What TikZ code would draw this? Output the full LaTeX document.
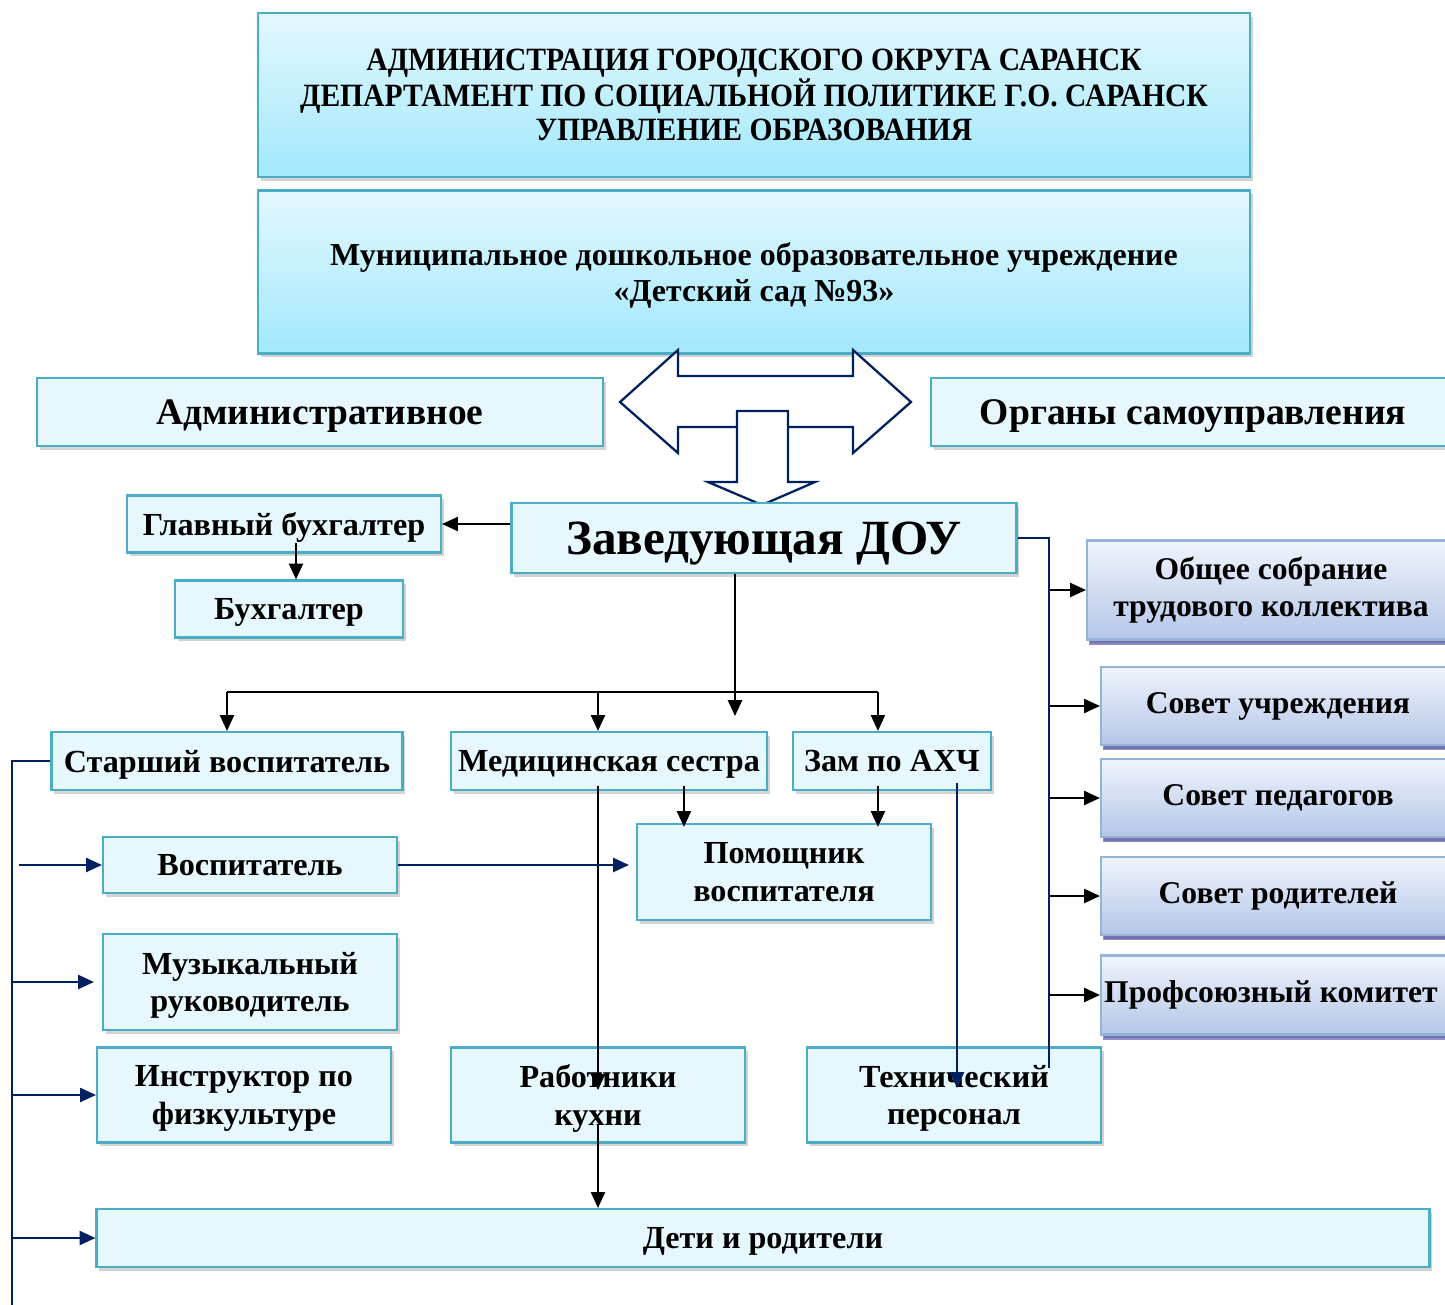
\documentclass[tikz,border=0pt]{standalone}
\usepackage{fontspec}
\setmainfont{Liberation Serif}
\newfontfamily\narrowfont[FakeStretch=0.91]{Liberation Serif}
\usepackage{xcolor}
\usetikzlibrary{arrows.meta,calc,shadows}
\definecolor{boxline}{HTML}{4BACC6}
\definecolor{boxfill}{HTML}{E6F8FD}
\definecolor{topfill}{HTML}{E3F8FE}
\definecolor{botfill}{HTML}{A2E8FC}
\definecolor{lavtop}{HTML}{F0F4FC}
\definecolor{lavbot}{HTML}{B4C6E8}
\definecolor{lavline}{HTML}{95B3D7}
\definecolor{navy}{HTML}{002060}

\begin{document}
\begin{tikzpicture}[x=0.02cm,y=-0.02cm,
  sz/.style 2 args={minimum width=#1*0.02cm,minimum height=#2*0.02cm},
  box/.style={draw=boxline,line width=1.2pt,fill=boxfill,align=center,inner sep=0pt,
    font=\bfseries\fontsize{18.3}{21.5}\selectfont,text depth=0pt,
    drop shadow={shadow xshift=1.5pt,shadow yshift=-2pt,opacity=.35}},
  bigbox/.style={box,top color=topfill,bottom color=botfill},
  rbox/.style={box,draw=lavline,top color=lavtop,bottom color=lavbot,text depth=,
    font=\bfseries\fontsize{18}{21.5}\selectfont,
    drop shadow={shadow xshift=1pt,shadow yshift=-3pt,fill=black!50!blue,opacity=.45}},
  arr/.style={line width=1.1pt,-{Triangle[length=9pt,width=8pt]}},
  narr/.style={arr,navy},
  nv/.style={line width=1.1pt,navy},
  fat/.style={navy,line width=1.3pt,fill=white}]
\clip (0,0) rectangle (1445,1305);

% top
\node[bigbox,sz={992}{164},font=\narrowfont\bfseries\fontsize{18.5}{19.3}\selectfont] (admin) at (754,95)
  {АДМИНИСТРАЦИЯ ГОРОДСКОГО ОКРУГА САРАНСК\\ДЕПАРТАМЕНТ ПО СОЦИАЛЬНОЙ ПОЛИТИКЕ Г.О. САРАНСК\\УПРАВЛЕНИЕ ОБРАЗОВАНИЯ};
\node[bigbox,sz={992}{163},font=\bfseries\fontsize{18.2}{21}\selectfont] (mdou) at (754,272)
  {Муниципальное дошкольное образовательное учреждение\\«Детский сад №93»};
\node[box,sz={566}{68},font=\bfseries\fontsize{21.3}{24}\selectfont] (adm) at (320,412) {Административное};
\node[box,sz={524}{68},font=\bfseries\fontsize{21.4}{24}\selectfont] (self) at (1193,412) {Органы самоуправления};

% big arrows
\draw[fat] (620,402) -- (678,350) -- (678,376) -- (853,376) -- (853,350) -- (911,402)
  -- (853,453) -- (853,427) -- (678,427) -- (678,453) -- cycle;
\draw[fat] (737,411) -- (788,411) -- (788,482) -- (815,482) -- (762,505) -- (708,482) -- (737,482) -- cycle;

\node[box,sz={505}{70},font=\bfseries\fontsize{28}{34}\selectfont] (zav) at (764,538) {Заведующая ДОУ};
\node[box,sz={314}{57}] (glav) at (284,524) {Главный бухгалтер};
\node[box,sz={228}{57}] (buh) at (289,609) {Бухгалтер};

% right column
\node[rbox,sz={368}{99}] (obsh) at (1271,590) {Общее собрание\\трудового коллектива};
\node[rbox,sz={354}{78}] (sovu) at (1278,706) {Совет учреждения};
\node[rbox,sz={354}{78}] (sovp) at (1278,798) {Совет педагогов};
\node[rbox,sz={354}{78}] (sovr) at (1278,896) {Совет родителей};
\node[rbox,sz={354}{79}] (prof) at (1278,995) {Профсоюзный комитет\hspace*{8pt}};

% staff
\node[box,sz={351}{58}] (star) at (227,761) {Старший воспитатель};
\node[box,sz={316}{58}] (med) at (609,761) {Медицинская сестра};
\node[box,sz={198}{58}] (zam) at (892,761) {Зам по АХЧ};
\node[box,sz={294}{96}] (pom) at (784,872) {Помощник\\воспитателя};
\node[box,sz={294}{56}] (vos) at (250,865) {Воспитатель};
\node[box,sz={294}{96}] (muz) at (250,982) {Музыкальный\\руководитель};
\node[box,sz={294}{95}] (instr) at (244,1095) {Инструктор по\\физкультуре};
\node[box,sz={294}{95}] (kitch) at (598,1095) {Работники\\кухни};
\node[box,sz={294}{95}] (tech) at (954,1095) {Технический\\персонал};
\node[box,sz={1333}{58}] (kids) at (763,1238) {Дети и родители};

% connectors
\coordinate (hub) at (735,716);
\coordinate (bar) at (0,692);
\coordinate (lend) at (12,1305);
\coordinate (rbus) at (1049,1068);
\coordinate (pm1) at ($(pom.north west)+(48,4)$);
\coordinate (pm2) at ($(pom.north west)+(242,4)$);
\draw[arr] (zav.west |- glav.east) -- (glav.east);
\draw[arr] ($(buh.north |- glav.south)+(7,-11)$) -- ($(buh.north)+(7,0)$);
\draw[arr] (zav.south -| hub) -- (hub);
\draw[line width=1.1pt] (bar -| star.north) -- (bar -| pm2);
\draw[arr] (bar -| star.north) -- (star.north);
\draw[arr] (bar -| pm2) -- (zam.north -| pm2);
\draw[arr] (bar -| kitch) -- (med.north -| kitch);
\draw[arr] ($(kitch |- med.south)+(0,-5)$) -- ($(kitch.center)+(0,-5)$);
\draw[arr] ($(kitch.center)+(0,30)$) -- (kitch |- kids.north);
\foreach \p in {pm1,pm2} \draw[arr] ($(\p |- med.south)+(0,-5)$) -- (\p);
\draw[narr] ($(tech |- zam.south)+(3,-8)$) -- ($(tech.center)+(3,-7)$);
\draw[narr] (vos.east) -- ($(vos.east -| pom.west)+(-7,0)$);

% left bus
\draw[nv] (star.west) -| (lend);
\draw[narr] ($(lend |- vos.west)+(7,0)$) -- (vos.west);
\draw[narr] (lend |- muz.west) -- ($(muz.west)+(-8,0)$);
\foreach \n in {instr,kids} \draw[narr] (lend |- \n.west) -- (\n.west);

% right bus
\draw[nv] (zav.east) -| (rbus);
\foreach \n in {obsh,sovu,sovp,sovr,prof} \draw[arr] (rbus |- \n.west) -- (\n.west);
\end{tikzpicture}
\end{document}
